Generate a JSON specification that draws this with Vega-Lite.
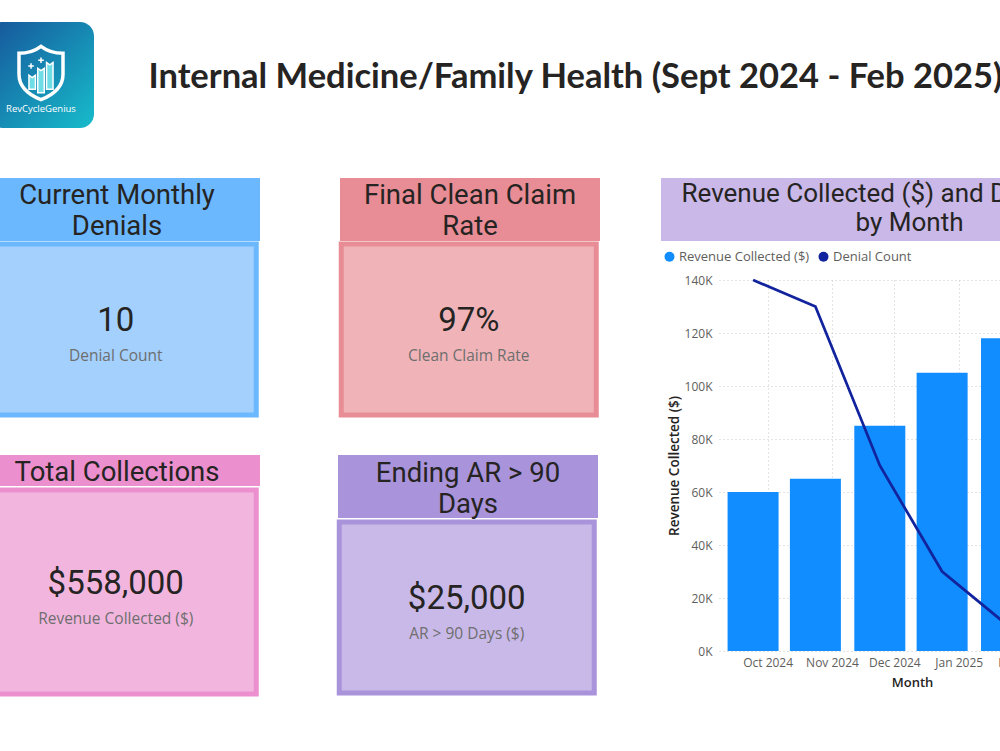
{
  "$schema": "https://vega.github.io/schema/vega-lite/v6.json",
  "background": "white",
  "padding": {"left": -28, "top": 22, "right": 0, "bottom": 0},
  "config": {
    "view": {"stroke": null},
    "font": "Open Sans",
    "text": {"color": "#252423"}
  },
  "datasets": {
    "monthly": [
      {"date": "2024-09-24", "revenue": 60000, "denials": 140},
      {"date": "2024-10-24", "revenue": 65000, "denials": 130},
      {"date": "2024-11-24", "revenue": 85000, "denials": 70},
      {"date": "2024-12-24", "revenue": 105000, "denials": 30},
      {"date": "2025-01-24", "revenue": 118000, "denials": 10},
      {"date": "2025-02-24", "revenue": 125000, "denials": 10}
    ]
  },
  "spacing": 50,
  "resolve": {"scale": {"color": "independent"}, "legend": {"color": "independent"}},
  "vconcat": [
    {
      "spacing": 10,
      "hconcat": [
        {
          "width": 4, "height": 1,
          "data": {"values": [{}]},
          "mark": {"type": "rect", "color": "white"},
          "encoding": {}
        },
        {
          "spacing": 10,
          "hconcat": [
            {
              "width": 106, "height": 106,
              "data": {"values": [{"name": "RevCycleGenius"}]},
              "layer": [
                {
                  "mark": {"type": "rect", "cornerRadius": 14,
                    "fill": {"gradient": "linear", "x1": 0, "y1": 0, "x2": 1, "y2": 1,
                      "stops": [{"offset": 0, "color": "#16549a"}, {"offset": 1, "color": "#17bccb"}]}},
                  "encoding": {}
                },
                {
                  "mark": {"type": "point", "filled": false, "stroke": "white", "strokeWidth": 3.5, "opacity": 1, "size": 2145, "yOffset": -2,
                    "shape": "M0,-1.15 C0.3,-0.92 0.6,-0.85 0.95,-0.85 L0.95,0.05 C0.95,0.6 0.5,0.95 0,1.15 C-0.5,0.95 -0.95,0.6 -0.95,0.05 L-0.95,-0.85 C-0.6,-0.85 -0.3,-0.92 0,-1.15 Z"},
                  "encoding": {}
                },
                {
                  "mark": {"type": "point", "filled": true, "fill": "#6fdde6", "stroke": "white", "strokeWidth": 1.5, "opacity": 1, "size": 2145, "yOffset": -2,
                    "shape": "M-0.52,0.7 L-0.52,0.1 L-0.38,0.2 L-0.24,0.1 L-0.24,0.7 Z M-0.14,0.85 L-0.14,-0.2 L0,-0.1 L0.14,-0.2 L0.14,0.85 Z M0.24,0.7 L0.24,-0.45 L0.38,-0.35 L0.52,-0.45 L0.52,0.7 Z M-0.55,-0.3 L-0.31,-0.3 M-0.43,-0.42 L-0.43,-0.18 M-0.12,-0.55 L0.12,-0.55 M0,-0.67 L0,-0.43"},
                  "encoding": {}
                },
                {
                  "mark": {"type": "text", "color": "white", "font": "Open Sans", "fontSize": 9.5, "dy": 34, "baseline": "middle"},
                  "encoding": {"text": {"field": "name"}}
                }
              ]
            },
            {
              "width": 943, "height": 106,
              "view": {"fill": "white"},
              "data": {"values": [{"t": "Internal Medicine/Family Health (Sept 2024 - Feb 2025)"}]},
              "mark": {"type": "text", "font": "Lato", "fontWeight": "bold", "fontSize": 34.5, "baseline": "middle", "dy": 3, "color": "#252423"},
              "encoding": {"text": {"field": "t"}}
            }
          ]
        }
      ]
    },
    {
      "spacing": 58,
      "resolve": {"scale": {"color": "independent"}, "legend": {"color": "independent"}},
      "hconcat": [
        {
          "spacing": 37,
          "vconcat": [
            {
              "spacing": 78,
              "hconcat": [
                {
                  "spacing": 0, "center": true,
                  "vconcat": [
                    {
                      "width": 286, "height": 63,
                      "view": {"fill": "#6cb8fe"},
                      "data": {"values": [{"t": "Current Monthly\nDenials"}]},
                      "mark": {"type": "text", "lineBreak": "\n", "font": "Roboto", "fontSize": 27.5, "lineHeight": 31.5, "baseline": "middle", "dy": -13.75},
                      "encoding": {"text": {"field": "t"}}
                    },
                    {
                      "width": 281, "height": 171,
                      "view": {"fill": "#a3d0fd", "stroke": "#6cb8fe", "strokeWidth": 5},
                      "data": {"values": [{"v": 10, "label": "Denial Count"}]},
                      "layer": [
                        {"mark": {"type": "text", "font": "Roboto", "fontSize": 33, "dy": -9, "baseline": "middle"},
                         "encoding": {"text": {"field": "v", "type": "quantitative", "format": ",d"}}},
                        {"mark": {"type": "text", "font": "Open Sans", "fontSize": 15.5, "dy": 26, "baseline": "middle", "color": "#6e6e6e"},
                         "encoding": {"text": {"field": "label"}}}
                      ]
                    }
                  ]
                },
                {
                  "spacing": 0, "center": true,
                  "vconcat": [
                    {
                      "width": 260, "height": 63,
                      "view": {"fill": "#e88d95"},
                      "data": {"values": [{"t": "Final Clean Claim\nRate"}]},
                      "mark": {"type": "text", "lineBreak": "\n", "font": "Roboto", "fontSize": 27.5, "lineHeight": 31.5, "baseline": "middle", "dy": -13.75},
                      "encoding": {"text": {"field": "t"}}
                    },
                    {
                      "width": 255, "height": 171,
                      "view": {"fill": "#f0b4b8", "stroke": "#e88d95", "strokeWidth": 5},
                      "data": {"values": [{"v": 0.97, "label": "Clean Claim Rate"}]},
                      "layer": [
                        {"mark": {"type": "text", "font": "Roboto", "fontSize": 33, "dy": -9, "baseline": "middle"},
                         "encoding": {"text": {"field": "v", "type": "quantitative", "format": ".0%"}}},
                        {"mark": {"type": "text", "font": "Open Sans", "fontSize": 15.5, "dy": 26, "baseline": "middle", "color": "#6e6e6e"},
                         "encoding": {"text": {"field": "label"}}}
                      ]
                    }
                  ]
                }
              ]
            },
            {
              "spacing": 76,
              "hconcat": [
                {
                  "spacing": 0, "center": true,
                  "vconcat": [
                    {
                      "width": 286, "height": 31,
                      "view": {"fill": "#ec8fce"},
                      "data": {"values": [{"t": "Total Collections"}]},
                      "mark": {"type": "text", "font": "Roboto", "fontSize": 27.5, "baseline": "middle", "dy": 2.5},
                      "encoding": {"text": {"field": "t"}}
                    },
                    {
                      "width": 281, "height": 204,
                      "view": {"fill": "#f2b6de", "stroke": "#ec8fce", "strokeWidth": 5},
                      "data": {"values": [{"v": 558000, "label": "Revenue Collected ($)"}]},
                      "layer": [
                        {"mark": {"type": "text", "font": "Roboto", "fontSize": 33, "dy": -8, "baseline": "middle"},
                         "encoding": {"text": {"field": "v", "type": "quantitative", "format": "$,.0f"}}},
                        {"mark": {"type": "text", "font": "Open Sans", "fontSize": 15.5, "dy": 27, "baseline": "middle", "color": "#6e6e6e"},
                         "encoding": {"text": {"field": "label"}}}
                      ]
                    }
                  ]
                },
                {
                  "spacing": 0, "center": true,
                  "vconcat": [
                    {
                      "width": 260, "height": 63,
                      "view": {"fill": "#a993da"},
                      "data": {"values": [{"t": "Ending AR > 90\nDays"}]},
                      "mark": {"type": "text", "lineBreak": "\n", "font": "Roboto", "fontSize": 27.5, "lineHeight": 31.5, "baseline": "middle", "dy": -12.75},
                      "encoding": {"text": {"field": "t"}}
                    },
                    {
                      "width": 255, "height": 171,
                      "view": {"fill": "#c9b9e8", "stroke": "#a993da", "strokeWidth": 5},
                      "data": {"values": [{"v": 25000, "label": "AR > 90 Days ($)"}]},
                      "layer": [
                        {"mark": {"type": "text", "font": "Roboto", "fontSize": 33, "dy": -9, "baseline": "middle"},
                         "encoding": {"text": {"field": "v", "type": "quantitative", "format": "$,.0f"}}},
                        {"mark": {"type": "text", "font": "Open Sans", "fontSize": 15.5, "dy": 26, "baseline": "middle", "color": "#6e6e6e"},
                         "encoding": {"text": {"field": "label"}}}
                      ]
                    }
                  ]
                }
              ]
            }
          ]
        },
        {
          "spacing": 4,
          "resolve": {"scale": {"color": "independent"}, "legend": {"color": "independent"}},
          "vconcat": [
            {
              "width": 497, "height": 63,
              "view": {"fill": "#c9b8e8"},
              "data": {"values": [{"t": "Revenue Collected ($) and Denial Count\nby Month"}]},
              "mark": {"type": "text", "lineBreak": "\n", "font": "Roboto", "fontSize": 26, "lineHeight": 29, "baseline": "middle", "dy": -15.5},
              "encoding": {"text": {"field": "t"}}
            },
            {
              "spacing": -4,
              "resolve": {"scale": {"color": "independent"}, "legend": {"color": "independent"}},
              "hconcat": [
                {
                  "width": 1, "height": 1,
                  "data": {"values": []},
                  "mark": {"type": "rect"},
                  "encoding": {}
                },
                {
                  "width": 386, "height": 371,
                  "data": {"name": "monthly"},
                  "encoding": {
                    "x": {"field": "date", "type": "temporal", "title": "Month",
                      "scale": {"domain": [{"year": 2024, "month": 9, "date": 10}, {"year": 2025, "month": 3, "date": 10}]},
                      "axis": {"format": "%b %Y", "tickCount": {"interval": "month", "step": 1}, "grid": true, "gridDash": [1, 3], "gridColor": "#c8c8c8",
                        "ticks": false, "domain": false, "labelFlush": false, "labelFont": "Open Sans", "labelFontSize": 12, "labelColor": "#605e5c", "labelPadding": 6,
                        "titleFont": "Open Sans", "titleFontSize": 13, "titleFontWeight": 600, "titleColor": "#252423", "titlePadding": 8}}
                  },
                  "layer": [
                    {
                      "mark": {"type": "bar", "size": 51},
                      "encoding": {
                        "y": {"field": "revenue", "type": "quantitative", "title": "Revenue Collected ($)",
                          "scale": {"domain": [0, 140000]},
                          "axis": {"values": [0, 20000, 40000, 60000, 80000, 100000, 120000, 140000], "labelExpr": "datum.value / 1000 + 'K'",
                            "grid": true, "gridDash": [1, 3], "gridColor": "#c8c8c8", "ticks": false, "domain": false,
                            "labelFont": "Open Sans", "labelFontSize": 12, "labelColor": "#605e5c", "labelPadding": 7,
                            "titleFont": "Open Sans", "titleFontSize": 13.5, "titleFontWeight": 600, "titleColor": "#252423", "titlePadding": 3}},
                        "color": {"datum": "Revenue Collected ($)",
                          "scale": {"domain": ["Revenue Collected ($)", "Denial Count"], "range": ["#118dff", "#12239e"]},
                          "legend": {"title": null, "orient": "none", "legendX": -61, "legendY": -35, "direction": "horizontal", "padding": 5,
                            "symbolType": "circle", "symbolSize": 100, "symbolStrokeWidth": 0, "symbolOpacity": 1,
                            "labelFont": "Open Sans", "labelFontSize": 13, "labelColor": "#605e5c", "columnPadding": 7, "labelOffset": 3,
                            "encode": {"symbols": {"update": {"fill": {"scale": "color", "field": "value"}, "opacity": {"value": 1}}}}}}
                      }
                    },
                    {
                      "mark": {"type": "line", "strokeWidth": 2.75},
                      "encoding": {
                        "y": {"field": "denials", "type": "quantitative", "scale": {"domain": [0, 140]}, "axis": null},
                        "color": {"datum": "Denial Count"}
                      }
                    }
                  ],
                  "resolve": {"scale": {"y": "independent"}}
                }
              ]
            }
          ]
        }
      ]
    }
  ]
}
